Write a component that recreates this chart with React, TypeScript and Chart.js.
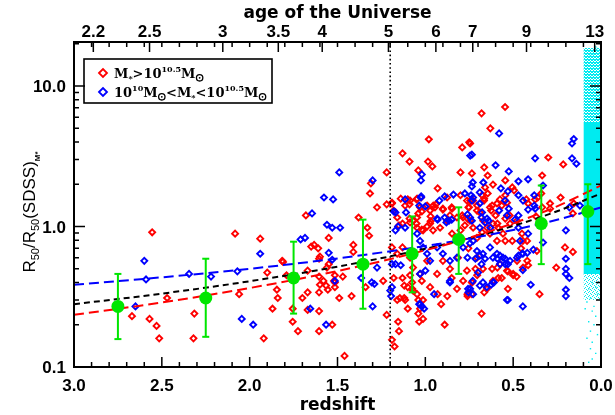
import { useEffect, useRef } from "react";
import { Chart, registerables } from "chart.js";

Chart.register(...registerables);

// ---------------- data ----------------
const X_MIN = 0.0;
const X_MAX = 3.0;
const Y_MIN = 0.1;
const Y_MAX = 20.6;

const xTickValues = [3.0, 2.5, 2.0, 1.5, 1.0, 0.5, 0.0];
const xTickLabels = ["3.0", "2.5", "2.0", "1.5", "1.0", "0.5", "0.0"];
const yTickValues = [0.1, 1, 10];
const yTickLabels = ["0.1", "1.0", "10.0"];
const yMinorValues = [0.2, 0.3, 0.4, 0.5, 0.6, 0.7, 0.8, 0.9, 2, 3, 4, 5, 6, 7, 8, 9, 20];
const ageLabels = ["2.2", "2.5", "3", "3.5", "4", "5", "6", "7", "9", "13"];
const ageRedshifts = [2.89, 2.57, 2.153, 1.837, 1.587, 1.21, 0.94, 0.73, 0.424, 0.036];

const transitionRedshift = 1.2;

// binned medians (green)
const meanZ = [2.75, 2.25, 1.75, 1.355, 1.075, 0.81, 0.34, 0.075];
const meanR = [0.27, 0.31, 0.43, 0.54, 0.64, 0.81, 1.05, 1.28];
const errLo = [0.158, 0.164, 0.24, 0.26, 0.34, 0.46, 0.54, 0.54];
const errHi = [0.46, 0.59, 0.78, 1.12, 1.18, 1.37, 1.96, 2.0];

// fitted relations
const fitZ = [3.0, 2.5, 2.0, 1.5, 1.0, 0.75, 0.5, 0.25, 0.0];
const fitRedR = [0.235, 0.288, 0.365, 0.482, 0.678, 0.832, 1.054, 1.393, 1.96];
const fitBlueR = [0.385, 0.435, 0.5, 0.593, 0.727, 0.821, 0.946, 1.117, 1.37];
const fitAllR = [0.28, 0.333, 0.408, 0.518, 0.694, 0.826, 1.01, 1.284, 1.72];

// SDSS local sample (cyan)
const sdssZ = [0.003, 0.1];
const sdssCoreR = [0.46, 5.45];
const sdssHaloR = [5.45, 18.7];
const sdssTailR = [0.3, 0.46];
const sdssSparse: [number, number][] = [
  [0.05, 0.4], [0.03, 0.37], [0.07, 0.36], [0.02, 0.33], [0.06, 0.31], [0.08, 0.29], [0.04, 0.27],
  [0.09, 0.26], [0.05, 0.25], [0.03, 0.23], [0.07, 0.21], [0.04, 0.2], [0.06, 0.18], [0.02, 0.17],
  [0.08, 0.16], [0.05, 0.15], [0.06, 0.135], [0.03, 0.125], [0.05, 0.114], [0.07, 0.108],
  [0.04, 17], [0.02, 18.5], [0.06, 16.5], [0.03, 19], [0.08, 14], [0.01, 15.5],
];

// M* > 10^10.5
const redGalaxies: [number, number][] = [
  [2.555, 0.91], [2.083, 0.89], [1.94, 0.82], [1.815, 0.57], [1.68, 1.2], [1.65, 0.72], [1.633, 0.74], [1.61, 0.7], [1.6, 0.61], [1.55, 0.83],
  [2.47, 0.31], [2.67, 0.23], [2.57, 0.22], [2.53, 0.196], [2.515, 0.16], [2.32, 0.16], [2.315, 0.24], [2.06, 0.33], [1.92, 0.16], [1.9, 0.47],
  [1.845, 0.355], [1.84, 0.31], [1.87, 0.26], [1.81, 0.56], [1.755, 0.26], [1.755, 0.21], [1.725, 0.18], [1.79, 0.45], [1.7, 0.31], [1.67, 0.34],
  [1.67, 0.255], [1.605, 0.59], [1.605, 0.44], [1.605, 0.34], [1.605, 0.25], [1.605, 0.18], [1.67, 0.485], [1.58, 0.41], [1.565, 0.38], [1.555, 0.355],
  [1.6, 0.385], [1.515, 0.37], [1.52, 0.41], [1.49, 0.31], [1.55, 0.54], [1.56, 0.51], [1.46, 0.12], [1.175, 0.14], [1.19, 0.156],
  [1.31, 2.03], [1.315, 1.72], [1.275, 1.37], [1.38, 1.16], [1.22, 2.43], [1.22, 1.44], [1.13, 3.32], [1.09, 2.9], [0.98, 4.18], [0.985, 2.9],
  [0.96, 2.68], [1.04, 2.51], [0.93, 1.87], [0.8, 2.43], [0.79, 3.66], [0.75, 3.98], [1.14, 1.58], [1.1, 1.56], [1.05, 1.56], [1.09, 1.44],
  [1.19, 1.48], [0.955, 1.41], [0.94, 1.44], [1.02, 1.28], [1.04, 1.24], [0.9, 1.32], [0.85, 1.37], [0.86, 1.2], [1.09, 1.14], [1.07, 1.1],
  [0.97, 1.18], [0.97, 1.09], [1.15, 1.02], [1.33, 0.98], [0.79, 1.2], [0.76, 1.14], [0.775, 1.02], [1.05, 1.05], [0.99, 1.0], [1.02, 0.95], [0.82, 1.16],
  [1.41, 0.74], [1.41, 0.66], [1.32, 0.86], [1.515, 0.45], [1.515, 0.4], [1.47, 0.44], [1.42, 0.32], [1.53, 0.2], [1.34, 0.37], [1.24, 0.41],
  [1.22, 0.235], [1.155, 0.21], [1.15, 0.18], [1.16, 0.3], [1.115, 0.3], [1.1, 0.26], [1.12, 0.31], [1.18, 0.43], [1.13, 0.43], [1.087, 0.45],
  [1.075, 0.4], [1.12, 0.38], [1.075, 0.36], [1.047, 0.33], [1.04, 0.3], [1.03, 0.26], [1.013, 0.22], [1.04, 0.24], [1.035, 0.21],
  [0.89, 0.2], [0.91, 0.28], [0.875, 0.32], [0.93, 0.33], [0.85, 0.43], [0.82, 0.36], [0.785, 0.41], [0.76, 0.33],
  [0.546, 7.1], [0.68, 6.4], [0.63, 5.0], [0.745, 3.9], [0.3, 3.1], [0.215, 2.77], [0.735, 2.39], [0.665, 2.64], [0.645, 2.31], [0.545, 2.13],
  [0.615, 1.99], [0.335, 2.31], [0.505, 1.9], [0.495, 1.81], [0.545, 1.67], [0.66, 1.9], [0.645, 1.72], [0.665, 1.58], [0.425, 1.56], [0.415, 1.46],
  [0.375, 1.56], [0.23, 1.61], [0.29, 1.46], [0.29, 1.34], [0.37, 1.18], [0.34, 1.72], [0.36, 1.61], [0.155, 1.46], [0.16, 1.24], [0.535, 1.48],
  [0.575, 1.56], [0.565, 1.41], [0.52, 1.2], [0.545, 1.14], [0.6, 1.2], [0.62, 1.41], [0.625, 1.3], [0.745, 1.53], [0.755, 1.37], [0.705, 1.41],
  [0.69, 1.26], [0.67, 1.1], [0.615, 1.05], [0.59, 1.05], [0.585, 0.98], [0.335, 1.37],
  [0.205, 0.71], [0.16, 0.66], [0.255, 0.51], [0.35, 0.33], [0.53, 0.36], [0.68, 0.24], [0.665, 0.34], [0.585, 0.43], [0.565, 0.43], [0.5, 0.45],
  [0.48, 0.44], [0.53, 0.48], [0.42, 0.57], [0.415, 0.53], [0.455, 0.7], [0.445, 0.79], [0.365, 0.67], [0.505, 0.79], [0.545, 0.79], [0.755, 0.7],
  [0.715, 0.5], [0.705, 0.45], [0.735, 0.4], [0.76, 0.32], [0.735, 0.33], [0.62, 0.5], [0.59, 0.51],
  [1.19, 1.46], [1.18, 1.3], [1.115, 1.41], [1.087, 1.53], [1.047, 1.58], [1.024, 1.61], [1.03, 1.37], [0.99, 1.41], [0.973, 1.3], [0.945, 1.37],
  [0.9, 1.34], [0.876, 1.61], [0.848, 1.34], [0.8, 1.67], [0.763, 1.53], [0.751, 1.37], [0.728, 1.53], [0.706, 1.3], [0.677, 1.67], [0.666, 1.53],
  [0.632, 1.37], [0.592, 1.46],
  [1.16, 1.16], [1.13, 1.05], [1.087, 1.07], [1.047, 1.16], [1.047, 0.98], [1.013, 0.94], [0.973, 1.05], [0.956, 0.94], [0.916, 0.98], [0.876, 1.1],
  [0.848, 0.89], [0.8, 0.94], [0.785, 1.16], [0.746, 1.1], [0.728, 0.98], [0.706, 0.83], [0.677, 0.91], [0.649, 0.98], [0.632, 0.89], [0.592, 0.79],
  [0.558, 0.89], [0.518, 1.05], [0.478, 1.1], [0.45, 0.89], [0.421, 0.79],
  [1.19, 0.71], [1.16, 0.64], [1.13, 0.71], [1.087, 0.6], [1.07, 0.51], [1.03, 0.46], [0.99, 0.57], [1.02, 0.41], [1.1, 0.37], [1.145, 0.31],
  [1.07, 0.35], [1.013, 0.3], [0.973, 0.37], [0.933, 0.46], [0.9, 0.57], [0.86, 0.5], [0.814, 0.6], [0.763, 0.485], [0.734, 0.4], [0.706, 0.6],
  [0.672, 0.5], [0.649, 0.36], [0.615, 0.41], [0.575, 0.54], [0.535, 0.485], [0.5, 0.46], [0.478, 0.57], [0.444, 0.51],
];

// 10^10 < M* < 10^10.5
const blueGalaxies: [number, number][] = [
  [1.94, 0.64], [2.6, 0.57], [1.645, 1.24], [1.577, 1.61], [1.525, 1.56], [1.71, 0.81], [1.685, 0.83], [1.56, 1.03], [1.53, 0.98], [1.55, 0.65],
  [2.59, 0.42], [2.345, 0.46], [2.22, 0.44], [2.07, 0.48], [2.65, 0.27], [2.045, 0.22], [1.98, 0.2], [1.565, 0.2], [1.515, 0.41], [1.655, 0.26], [1.53, 0.58],
  [1.49, 2.43], [1.3, 2.13], [1.02, 2.35], [1.025, 2.13], [0.84, 1.69], [0.775, 1.72], [0.89, 1.64], [0.92, 1.53], [1.115, 1.56], [1.025, 1.61],
  [1.17, 1.26], [1.0, 1.39], [1.035, 1.41], [0.93, 1.12], [0.89, 1.16], [0.85, 1.12], [1.11, 1.26], [1.155, 1.0], [0.76, 1.22], [0.88, 1.07], [0.865, 1.1], [0.745, 3.2],
  [1.485, 0.98], [1.365, 0.43], [1.305, 0.4], [1.29, 0.39], [1.275, 0.51], [1.3, 0.27], [1.2, 0.35], [1.195, 0.32], [1.19, 0.37], [1.19, 0.54],
  [1.17, 0.54], [1.14, 0.53], [1.035, 0.28], [1.02, 0.27], [0.95, 0.33], [0.86, 0.4],
  [0.58, 4.6], [0.735, 3.25], [0.155, 4.2], [0.165, 3.9], [0.14, 2.8], [0.165, 3.06], [0.375, 3.06], [0.6, 2.73], [0.525, 2.47], [0.47, 2.1],
  [0.415, 2.17], [0.73, 2.06], [0.735, 1.93], [0.69, 1.75], [0.67, 2.06], [0.57, 1.87], [0.53, 1.78], [0.47, 1.67], [0.38, 1.67], [0.415, 1.32],
  [0.38, 1.41], [0.375, 1.34], [0.18, 1.37], [0.12, 1.41], [0.525, 1.34], [0.47, 1.2], [0.535, 1.2], [0.49, 1.12], [0.47, 0.98], [0.74, 1.67],
  [0.735, 1.53], [0.69, 1.46], [0.745, 1.16], [0.735, 1.1], [0.68, 1.16], [0.66, 1.07], [0.64, 1.1], [0.63, 0.98], [0.69, 0.98], [0.33, 1.96],
  [0.2, 0.59], [0.2, 0.5], [0.2, 0.46], [0.18, 0.43], [0.2, 0.355], [0.2, 0.32], [0.445, 0.27], [0.4, 0.385], [0.53, 0.3], [0.65, 0.37],
  [0.625, 0.385], [0.61, 0.4], [0.445, 0.49], [0.545, 0.54], [0.53, 0.54], [0.575, 0.54], [0.47, 0.62], [0.45, 0.64], [0.42, 0.65], [0.385, 0.685],
  [0.59, 0.59], [0.615, 0.6], [0.575, 0.62], [0.545, 0.59], [0.7, 0.47], [0.69, 0.38], [0.73, 0.41], [0.745, 0.36], [0.755, 0.34], [0.76, 0.6],
  [0.66, 0.59], [0.69, 0.62], [0.715, 0.59], [0.68, 0.54], [0.2, 0.94], [0.33, 0.77],
  [1.18, 1.28], [1.024, 1.64], [0.933, 1.14], [0.728, 1.61], [0.677, 1.26], [0.649, 1.14], [0.58, 1.3], [0.546, 1.53], [0.444, 1.53],
  [1.17, 0.94], [1.115, 0.98], [1.047, 0.89], [1.03, 0.79], [1.013, 0.71], [0.99, 0.64], [0.973, 0.57], [1.0, 0.485], [1.03, 0.46], [0.933, 0.71],
  [0.9, 0.64], [0.86, 0.57], [0.82, 0.6], [0.785, 0.71], [0.746, 0.76], [0.728, 0.79], [0.706, 0.67], [0.672, 0.64], [0.632, 0.71], [0.592, 0.64],
  [0.558, 0.6], [0.518, 0.57], [0.478, 0.6], [0.444, 0.64], [0.415, 0.89], [0.461, 0.79], [0.86, 0.41], [0.757, 0.36], [0.728, 0.33], [0.672, 0.4],
  [0.615, 0.4], [0.535, 0.3], [1.03, 0.28], [1.007, 0.26],
];

// ---------------- styles ----------------
const RED = "rgb(255,0,0)";
const BLUE = "rgb(0,0,255)";
const GREEN = "rgb(0,230,0)";
const CYAN = "rgb(0,235,240)";
const TICK_FONT = 'bold 17px "Liberation Sans"';
const TITLE_FONT = 'bold 17px "DejaVu Sans"';
const LEG_FONT = 'bold 13px "DejaVu Serif"';
const LEG_SMALL = 'bold 8px "DejaVu Serif"';

type Part = { t?: string; font?: string; dy?: number; sun?: boolean };

function drawRich(ctx: CanvasRenderingContext2D, x: number, base: number, parts: Part[], measureOnly = false) {
  let cx = x;
  for (const p of parts) {
    if (p.sun) {
      const r = 3.2;
      const cy = base + (p.dy || 0) - r;
      if (!measureOnly) {
        ctx.save();
        ctx.lineWidth = 1.3;
        ctx.beginPath();
        ctx.arc(cx + r + 1, cy, r, 0, Math.PI * 2);
        ctx.stroke();
        ctx.beginPath();
        ctx.arc(cx + r + 1, cy, 0.9, 0, Math.PI * 2);
        ctx.fill();
        ctx.restore();
      }
      cx += 2 * r + 2;
      continue;
    }
    ctx.font = p.font || LEG_FONT;
    if (!measureOnly) ctx.fillText(p.t || "", cx, base + (p.dy || 0));
    cx += ctx.measureText(p.t || "").width;
  }
  return cx - x;
}

const idlAxes = {
  id: "idlAxes",
  afterDraw(chart: any) {
    const { ctx, chartArea: a } = chart;
    const xs = chart.scales.x;
    const ys = chart.scales.y;
    ctx.save();
    ctx.strokeStyle = "#000";
    ctx.fillStyle = "#000";
    ctx.lineWidth = 1.5;
    ctx.beginPath();
    for (let i = 0; i <= 30; i++) {
      const px = xs.getPixelForValue(i / 10);
      const major = i % 5 === 0;
      ctx.moveTo(px, a.bottom);
      ctx.lineTo(px, a.bottom - (major ? 10 : 5));
      ctx.moveTo(px, a.top);
      ctx.lineTo(px, a.top + 5);
    }
    for (const z of ageRedshifts) {
      const px = xs.getPixelForValue(z);
      ctx.moveTo(px, a.top);
      ctx.lineTo(px, a.top + 10);
    }
    for (const v of yTickValues) {
      const py = ys.getPixelForValue(v);
      ctx.moveTo(a.left, py);
      ctx.lineTo(a.left + 11, py);
      ctx.moveTo(a.right, py);
      ctx.lineTo(a.right - 11, py);
    }
    for (const v of yMinorValues) {
      const py = ys.getPixelForValue(v);
      ctx.moveTo(a.left, py);
      ctx.lineTo(a.left + 5, py);
      ctx.moveTo(a.right, py);
      ctx.lineTo(a.right - 5, py);
    }
    ctx.stroke();
    ctx.lineWidth = 2;
    ctx.strokeRect(a.left, a.top, a.right - a.left, a.bottom - a.top);

    ctx.font = TICK_FONT;
    ctx.textAlign = "center";
    ctx.textBaseline = "alphabetic";
    xTickValues.forEach((v, i) => {
      ctx.fillText(xTickLabels[i], xs.getPixelForValue(v), a.bottom + 24);
    });
    ageRedshifts.forEach((z, i) => {
      ctx.fillText(ageLabels[i], xs.getPixelForValue(z), a.top - 5);
    });
    ctx.textAlign = "right";
    yTickValues.forEach((v, i) => {
      ctx.fillText(yTickLabels[i], a.left - 8, ys.getPixelForValue(v) + 6);
    });

    ctx.font = TITLE_FONT;
    ctx.textAlign = "center";
    ctx.fillText("redshift", (a.left + a.right) / 2, 410);
    ctx.fillText("age of the Universe", (a.left + a.right) / 2, 18);

    ctx.textAlign = "left";
    const main = '17px "Liberation Sans"';
    const sub = '11px "Liberation Sans"';
    const tiny = 'bold 8px "Liberation Sans"';
    const yParts: Part[] = [
      { t: "R", font: main }, { t: "50", font: sub, dy: 4 },
      { t: "/R", font: main }, { t: "50", font: sub, dy: 4 },
      { t: "(SDSS)", font: main }, { t: "M*", font: tiny, dy: 5 },
    ];
    const w = drawRich(ctx, 0, 0, yParts, true);
    ctx.save();
    ctx.translate(35, 212 + w / 2);
    ctx.rotate(-Math.PI / 2);
    drawRich(ctx, 0, 0, yParts);
    ctx.restore();

    // legend
    ctx.lineWidth = 1.6;
    ctx.strokeRect(84, 59, 188, 44);
    const drawDiamond = (cx: number, cy: number, color: string) => {
      ctx.save();
      ctx.strokeStyle = color;
      ctx.lineWidth = 1.8;
      ctx.beginPath();
      ctx.moveTo(cx - 4, cy);
      ctx.lineTo(cx, cy - 4);
      ctx.lineTo(cx + 4, cy);
      ctx.lineTo(cx, cy + 4);
      ctx.closePath();
      ctx.stroke();
      ctx.restore();
    };
    drawDiamond(103, 73, RED);
    drawDiamond(103, 92, BLUE);
    ctx.textAlign = "left";
    drawRich(ctx, 114, 78, [
      { t: "M", font: LEG_FONT }, { t: "*", font: LEG_SMALL, dy: 3 }, { t: ">10", font: LEG_FONT },
      { t: "10.5", font: LEG_SMALL, dy: -6 }, { t: "M", font: LEG_FONT }, { sun: true, dy: 3 },
    ]);
    drawRich(ctx, 114, 97, [
      { t: "10", font: LEG_FONT }, { t: "10", font: LEG_SMALL, dy: -6 }, { t: "M", font: LEG_FONT },
      { sun: true, dy: 3 }, { t: "<M", font: LEG_FONT }, { t: "*", font: LEG_SMALL, dy: 3 },
      { t: "<10", font: LEG_FONT }, { t: "10.5", font: LEG_SMALL, dy: -6 }, { t: "M", font: LEG_FONT },
      { sun: true, dy: 3 },
    ]);
    ctx.restore();
  },
};

function makePattern(ctx: CanvasRenderingContext2D, cells: [number, number][], size: number) {
  const c = document.createElement("canvas");
  c.width = size;
  c.height = size;
  const g = c.getContext("2d")!;
  g.fillStyle = CYAN;
  for (const [i, j] of cells) g.fillRect(i, j, 1, 1);
  return ctx.createPattern(c, "repeat");
}

export default function App() {
  const ref = useRef<HTMLCanvasElement>(null);

  useEffect(() => {
    document.body.style.margin = "0";
    const canvas = ref.current!;
    const c2d = canvas.getContext("2d")!;
    const haloPattern = makePattern(c2d, [[0, 0], [1, 0], [2, 1], [0, 2], [1, 2], [2, 2]], 3);
    const tailPattern = makePattern(c2d, [[0, 0], [2, 1], [1, 3], [3, 2]], 4);

    const toXY = (pts: [number, number][]) => pts.map(([x, y]) => ({ x, y }));
    const errorSegments: any[] = [];
    meanZ.forEach((z, i) => {
      errorSegments.push({ x: z, y: errLo[i] }, { x: z, y: errHi[i] }, { x: z, y: null });
    });
    const caps = meanZ.map((z, i) => ({ x: z, y: errLo[i] })).concat(meanZ.map((z, i) => ({ x: z, y: errHi[i] })));
    const fitLine = (rs: number[], color: string, dash: number[], order: number) => ({
      type: "line",
      data: fitZ.map((z, i) => ({ x: z, y: rs[i] })),
      borderColor: color,
      borderWidth: 2,
      borderDash: dash,
      pointRadius: 0,
      cubicInterpolationMode: "monotone",
      fill: false,
      order,
    });
    const band = (rs: number[], bg: any, order: number) => ({
      type: "line",
      data: sdssZ.map((z) => ({ x: z, y: rs[1] })),
      borderWidth: 0,
      borderColor: "rgba(0,0,0,0)",
      backgroundColor: bg,
      pointRadius: 0,
      fill: { target: { value: rs[0] } },
      order,
    });

    const chart = new Chart(canvas, {
      type: "scatter",
      data: {
        datasets: [
          { data: meanZ.map((z, i) => ({ x: z, y: meanR[i] })), pointRadius: 6.5, pointStyle: "circle", backgroundColor: GREEN, borderWidth: 0, order: 1 } as any,
          { type: "line", data: errorSegments, borderColor: GREEN, borderWidth: 2, pointRadius: 0, spanGaps: false, fill: false, order: 2 } as any,
          { data: caps, pointStyle: "line", pointRadius: 3.5, borderColor: GREEN, borderWidth: 2, order: 3 } as any,
          fitLine(fitRedR, RED, [10, 5], 4) as any,
          fitLine(fitBlueR, BLUE, [10, 5], 5) as any,
          fitLine(fitAllR, "#000", [6, 4], 6) as any,
          {
            type: "line",
            data: [{ x: transitionRedshift, y: Y_MIN }, { x: transitionRedshift, y: Y_MAX }],
            borderColor: "#000", borderWidth: 1.6, borderDash: [1.6, 2.6], pointRadius: 0, fill: false, order: 7,
          } as any,
          { data: toXY(blueGalaxies), pointStyle: "rectRot", pointRadius: 3, borderColor: BLUE, backgroundColor: "rgba(0,0,0,0)", borderWidth: 1.9, order: 8 } as any,
          { data: toXY(redGalaxies), pointStyle: "rectRot", pointRadius: 3, borderColor: RED, backgroundColor: "rgba(0,0,0,0)", borderWidth: 1.9, order: 9 } as any,
          { data: toXY(sdssSparse), pointStyle: "rect", pointRadius: 1, borderWidth: 0, backgroundColor: CYAN, order: 10 } as any,
          band(sdssCoreR, CYAN, 11) as any,
          band(sdssHaloR, haloPattern, 12) as any,
          band(sdssTailR, tailPattern, 13) as any,
        ],
      },
      options: {
        animation: false,
        responsive: false,
        maintainAspectRatio: false,
        layout: { padding: { left: 74, right: 14, top: 42, bottom: 48 } },
        plugins: { legend: { display: false }, tooltip: { enabled: false } },
        scales: {
          x: { type: "linear", min: X_MIN, max: X_MAX, reverse: true, display: false },
          y: { type: "logarithmic", min: Y_MIN, max: Y_MAX, display: false },
        },
      },
      plugins: [idlAxes],
    } as any);
    return () => chart.destroy();
  }, []);

  return <canvas ref={ref} width={615} height={415} style={{ display: "block" }} />;
}
